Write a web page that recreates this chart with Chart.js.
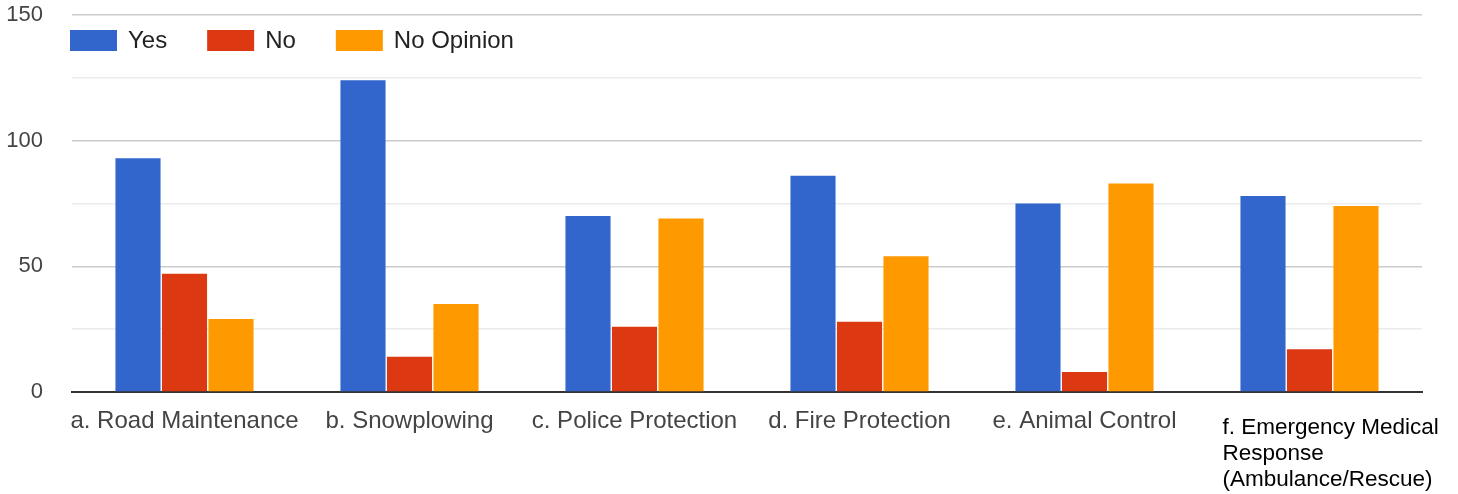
<!DOCTYPE html>
<html lang="en">
<head>
<meta charset="UTF-8">
<title>Services survey</title>
<script src="https://cdn.jsdelivr.net/npm/chart.js"></script>
<style>
    html, body { margin: 0; padding: 0; background: #fff; }
    .chart-box { position: relative; width: 1458px; height: 494px; }
</style>
</head>
<body>
<div class="chart-box">
    <canvas id="chartServicos"></canvas>
</div>
<script>
    const categorias = [
        'a. Road Maintenance',
        'b. Snowplowing',
        'c. Police Protection',
        'd. Fire Protection',
        'e. Animal Control',
        ['f. Emergency Medical', 'Response', '(Ambulance/Rescue)']
    ];
    const sim = [93, 124, 70, 86, 75, 78];
    const nao = [47, 14, 26, 28, 8, 17];
    const semOpiniao = [29, 35, 69, 54, 83, 74];
    const yTicks = [0, 50, 100, 150];

    const FONTE = '"Liberation Sans", Arial, sans-serif';

    // legenda desenhada dentro da area do grafico, no canto superior esquerdo
    const legendaDentro = {
        id: 'legendaDentro',
        afterDraw(chart) {
            const ctx = chart.ctx;
            let x = 70;
            const y = 40;
            ctx.save();
            ctx.font = '24px ' + FONTE;
            ctx.textBaseline = 'middle';
            ctx.textAlign = 'left';
            chart.data.datasets.forEach(ds => {
                ctx.fillStyle = ds.backgroundColor;
                ctx.fillRect(x, y - 10, 47, 21);
                ctx.fillStyle = '#222';
                ctx.fillText(ds.label, x + 58, y + 1);
                x += 58 + ctx.measureText(ds.label).width + 40;
            });
            ctx.restore();
        }
    };

    // rotulo de varias linhas alinhado a esquerda (ultima categoria)
    const rotuloLongo = {
        id: 'rotuloLongo',
        afterDraw(chart) {
            const ctx = chart.ctx;
            const xScale = chart.scales.x;
            const linhas = categorias[5];
            const cx = xScale.getPixelForValue(5);
            ctx.save();
            ctx.font = '22.5px ' + FONTE;
            ctx.fillStyle = '#000';
            ctx.textBaseline = 'middle';
            ctx.textAlign = 'left';
            linhas.forEach((t, i) => {
                ctx.fillText(t, cx - 87, chart.chartArea.bottom + 36 + i * 26);
            });
            ctx.restore();
        }
    };

    const ctx = document.getElementById('chartServicos').getContext('2d');
    new Chart(ctx, {
        type: 'bar',
        data: {
            labels: categorias,
            datasets: [
                { label: 'Yes', data: sim, backgroundColor: '#3366cc' },
                { label: 'No', data: nao, backgroundColor: '#dc3912' },
                { label: 'No Opinion', data: semOpiniao, backgroundColor: '#ff9900' }
            ]
        },
        options: {
            responsive: true,
            maintainAspectRatio: false,
            animation: false,
            layout: { padding: { left: 0, right: 36, top: 15, bottom: 54 } },
            datasets: {
                bar: { categoryPercentage: 0.62, barPercentage: 0.97 }
            },
            plugins: {
                legend: { display: false },
                tooltip: { enabled: false }
            },
            scales: {
                x: {
                    afterFit: (scale) => {
                        scale.height = 48;
                        scale.paddingLeft = 0;
                        scale.paddingRight = 0;
                    },
                    grid: { display: false, drawTicks: false },
                    border: { display: true, color: '#333', width: 2 },
                    ticks: {
                        padding: 15,
                        color: '#444',
                        font: { family: FONTE, size: 24 },
                        maxRotation: 0,
                        autoSkip: false,
                        callback: function (v, i) {
                            return i === 5 ? '' : categorias[i];
                        }
                    }
                },
                y: {
                    min: 0,
                    max: 150,
                    afterFit: (scale) => {
                        scale.width = 72;
                        scale.paddingTop = 0;
                        scale.paddingBottom = 0;
                    },
                    border: { display: false },
                    grid: {
                        drawTicks: false,
                        color: (c) => (c.tick && c.tick.value % 50 === 0) ? '#cccccc' : '#ebebeb',
                        lineWidth: 1.5
                    },
                    ticks: {
                        stepSize: 25,
                        padding: 29,
                        color: '#444',
                        font: { family: FONTE, size: 22 },
                        callback: (v) => yTicks.includes(v) ? v : ''
                    }
                }
            }
        },
        plugins: [legendaDentro, rotuloLongo]
    });
</script>
</body>
</html>
